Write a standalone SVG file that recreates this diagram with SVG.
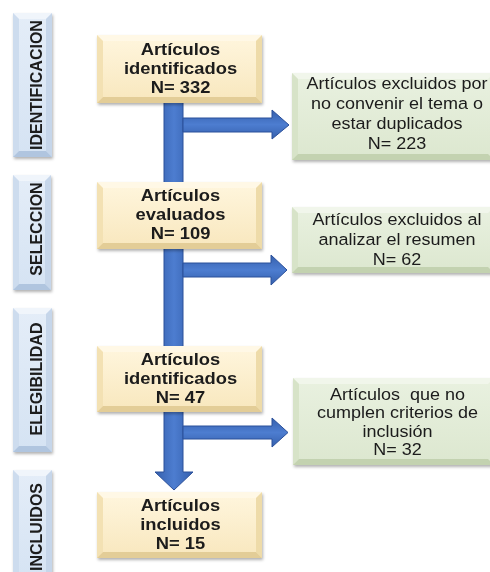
<svg xmlns="http://www.w3.org/2000/svg" width="490" height="572" viewBox="0 0 490 572">
<defs>
  <filter id="sh" x="-10%" y="-10%" width="125%" height="130%">
    <feDropShadow dx="1" dy="2" stdDeviation="1.5" flood-color="#000" flood-opacity="0.3"/>
  </filter>
  <linearGradient id="gCream" x1="0" y1="0" x2="0" y2="1">
    <stop offset="0" stop-color="#fff6de"/><stop offset="1" stop-color="#f8e7bd"/>
  </linearGradient>
  <linearGradient id="gGreen" x1="0" y1="0" x2="0" y2="1">
    <stop offset="0" stop-color="#e9f1e0"/><stop offset="1" stop-color="#dce7cf"/>
  </linearGradient>
  <linearGradient id="gBlue" x1="0" y1="0" x2="0" y2="1">
    <stop offset="0" stop-color="#e4edf8"/><stop offset="1" stop-color="#d5e3f3"/>
  </linearGradient>
  <linearGradient id="gArrV" x1="0" y1="0" x2="1" y2="0">
    <stop offset="0" stop-color="#3560ad"/><stop offset="0.5" stop-color="#4d7dd0"/><stop offset="1" stop-color="#3560ad"/>
  </linearGradient>
  <linearGradient id="gArrH" x1="0" y1="0" x2="0" y2="1">
    <stop offset="0" stop-color="#3560ad"/><stop offset="0.5" stop-color="#4d7dd0"/><stop offset="1" stop-color="#3560ad"/>
  </linearGradient>
  <style>
    .main { font-family: "Liberation Sans", Arial, sans-serif; font-size: 17px; font-weight: bold; fill: #1a1a1a; text-anchor: middle; }
    .side { font-family: "Liberation Sans", Arial, sans-serif; font-size: 17px; fill: #1a1a1a; text-anchor: middle; }
    .lbl { font-family: "Liberation Sans", Arial, sans-serif; font-size: 16px; font-weight: bold; fill: #1a1a1a; text-anchor: middle; }
    .arr { stroke: #2b509a; stroke-width: 1; stroke-linejoin: miter; }
    .cT { fill: #fff8e6; } .cL { fill: #f3e1b3; } .cR { fill: #eedba9; } .cB { fill: #e3cd97; }
    .gT { fill: #f1f6eb; } .gL { fill: #d7e3c8; } .gR { fill: #d1ddc1; } .gB { fill: #c3d2b0; }
    .bT { fill: #f0f5fb; } .bL { fill: #cddcee; } .bR { fill: #c6d6ea; } .bB { fill: #b0c5df; }
  </style>
</defs>
<rect width="490" height="572" fill="#ffffff"/>

<!-- Side labels -->
<g id="lbl-identificacion" filter="url(#sh)">
  <rect x="13" y="13" width="39" height="144" fill="url(#gBlue)"/>
  <polygon class="bT" points="13,13 52,13 46,19 19,19"/>
  <polygon class="bL" points="13,13 19,19 19,151 13,157"/>
  <polygon class="bR" points="52,13 52,157 46,151 46,19"/>
  <polygon class="bB" points="13,157 52,157 46,151 19,151"/>
  <text class="lbl" transform="translate(42,85) rotate(-90)">IDENTIFICACION</text>
</g>
<g id="lbl-seleccion" filter="url(#sh)">
  <rect x="13" y="175" width="38" height="115" fill="url(#gBlue)"/>
  <polygon class="bT" points="13,175 51,175 45,181 19,181"/>
  <polygon class="bL" points="13,175 19,181 19,284 13,290"/>
  <polygon class="bR" points="51,175 51,290 45,284 45,181"/>
  <polygon class="bB" points="13,290 51,290 45,284 19,284"/>
  <text class="lbl" transform="translate(41.5,229) rotate(-90)">SELECCION</text>
</g>
<g id="lbl-elegibilidad" filter="url(#sh)">
  <rect x="13" y="308" width="39" height="144" fill="url(#gBlue)"/>
  <polygon class="bT" points="13,308 52,308 46,314 19,314"/>
  <polygon class="bL" points="13,308 19,314 19,446 13,452"/>
  <polygon class="bR" points="52,308 52,452 46,446 46,314"/>
  <polygon class="bB" points="13,452 52,452 46,446 19,446"/>
  <text class="lbl" transform="translate(42,379) rotate(-90)">ELEGIBILIDAD</text>
</g>
<g id="lbl-incluidos" filter="url(#sh)">
  <rect x="13" y="470" width="39" height="112" fill="url(#gBlue)"/>
  <polygon class="bT" points="13,470 52,470 46,476 19,476"/>
  <polygon class="bL" points="13,470 19,476 19,582 13,582"/>
  <polygon class="bR" points="52,470 52,582 46,582 46,476"/>
  <text class="lbl" transform="translate(42,527) rotate(-90)">INCLUIDOS</text>
</g>

<!-- Connectors -->
<g id="connectors">
  <polygon class="arr" fill="url(#gArrV)" points="164,102 183,102 183,472 193,472 174,490 155,472 164,472"/>
  <polygon class="arr" fill="url(#gArrH)" points="183,118 272,118 272,110 289,125 272,139 272,132 183,132"/>
  <polygon class="arr" fill="url(#gArrH)" points="183,263 271,263 271,255 287,270 271,285 271,277 183,277"/>
  <polygon class="arr" fill="url(#gArrH)" points="183,426 272,426 272,418 288,432.5 272,447 272,439 183,439"/>
</g>

<!-- Main boxes -->
<g id="n1" filter="url(#sh)">
  <rect x="97" y="35" width="165" height="68" fill="url(#gCream)"/>
  <polygon class="cT" points="97,35 262,35 256,41 103,41"/>
  <polygon class="cL" points="97,35 103,41 103,97 97,103"/>
  <polygon class="cR" points="262,35 262,103 256,97 256,41"/>
  <polygon class="cB" points="97,103 262,103 256,97 103,97"/>
  <g transform="translate(180.5,0) scale(1.08,1)">
    <text class="main" x="0" y="55">Artículos</text>
    <text class="main" x="0" y="74.5">identificados</text>
    <text class="main" x="0" y="93">N= 332</text>
  </g>
</g>
<g id="n2" filter="url(#sh)">
  <rect x="97" y="182" width="165" height="67" fill="url(#gCream)"/>
  <polygon class="cT" points="97,182 262,182 256,188 103,188"/>
  <polygon class="cL" points="97,182 103,188 103,243 97,249"/>
  <polygon class="cR" points="262,182 262,249 256,243 256,188"/>
  <polygon class="cB" points="97,249 262,249 256,243 103,243"/>
  <g transform="translate(180.5,0) scale(1.08,1)">
    <text class="main" x="0" y="201">Artículos</text>
    <text class="main" x="0" y="220">evaluados</text>
    <text class="main" x="0" y="239">N= 109</text>
  </g>
</g>
<g id="n3" filter="url(#sh)">
  <rect x="97" y="346" width="165" height="66" fill="url(#gCream)"/>
  <polygon class="cT" points="97,346 262,346 256,352 103,352"/>
  <polygon class="cL" points="97,346 103,352 103,406 97,412"/>
  <polygon class="cR" points="262,346 262,412 256,406 256,352"/>
  <polygon class="cB" points="97,412 262,412 256,406 103,406"/>
  <g transform="translate(180.5,0) scale(1.08,1)">
    <text class="main" x="0" y="365">Artículos</text>
    <text class="main" x="0" y="384">identificados</text>
    <text class="main" x="0" y="403">N= 47</text>
  </g>
</g>
<g id="n4" filter="url(#sh)">
  <rect x="97" y="492" width="165" height="66" fill="url(#gCream)"/>
  <polygon class="cT" points="97,492 262,492 256,498 103,498"/>
  <polygon class="cL" points="97,492 103,498 103,552 97,558"/>
  <polygon class="cR" points="262,492 262,558 256,552 256,498"/>
  <polygon class="cB" points="97,558 262,558 256,552 103,552"/>
  <g transform="translate(180.5,0) scale(1.08,1)">
    <text class="main" x="0" y="511">Artículos</text>
    <text class="main" x="0" y="530">incluidos</text>
    <text class="main" x="0" y="549">N= 15</text>
  </g>
</g>

<!-- Exclusion boxes -->
<g id="e1" filter="url(#sh)">
  <rect x="292" y="73" width="202" height="87" fill="url(#gGreen)"/>
  <polygon class="gT" points="292,73 494,73 488,79 298,79"/>
  <polygon class="gL" points="292,73 298,79 298,154 292,160"/>
  <polygon class="gB" points="292,160 494,160 488,154 298,154"/>
  <g transform="translate(397,0) scale(1.06,1)">
    <text class="side" x="0" y="89">Artículos excluidos por</text>
    <text class="side" x="0" y="109">no convenir el tema o</text>
    <text class="side" x="0" y="129.5">estar duplicados</text>
    <text class="side" x="0" y="149">N= 223</text>
  </g>
</g>
<g id="e2" filter="url(#sh)">
  <rect x="292" y="207" width="202" height="66" fill="url(#gGreen)"/>
  <polygon class="gT" points="292,207 494,207 488,213 298,213"/>
  <polygon class="gL" points="292,207 298,213 298,267 292,273"/>
  <polygon class="gB" points="292,273 494,273 488,267 298,267"/>
  <g transform="translate(397,0) scale(1.06,1)">
    <text class="side" x="0" y="225.5">Artículos excluidos al</text>
    <text class="side" x="0" y="245">analizar el resumen</text>
    <text class="side" x="0" y="265">N= 62</text>
  </g>
</g>
<g id="e3" filter="url(#sh)">
  <rect x="293" y="378" width="201" height="87" fill="url(#gGreen)"/>
  <polygon class="gT" points="293,378 494,378 488,384 299,384"/>
  <polygon class="gL" points="293,378 299,384 299,459 293,465"/>
  <polygon class="gB" points="293,465 494,465 488,459 299,459"/>
  <g transform="translate(397.5,0) scale(1.06,1)">
    <text class="side" x="0" y="400" xml:space="preserve">Artículos  que no</text>
    <text class="side" x="0" y="418.5">cumplen criterios de</text>
    <text class="side" x="0" y="437">inclusión</text>
    <text class="side" x="0" y="455.5">N= 32</text>
  </g>
</g>
</svg>
